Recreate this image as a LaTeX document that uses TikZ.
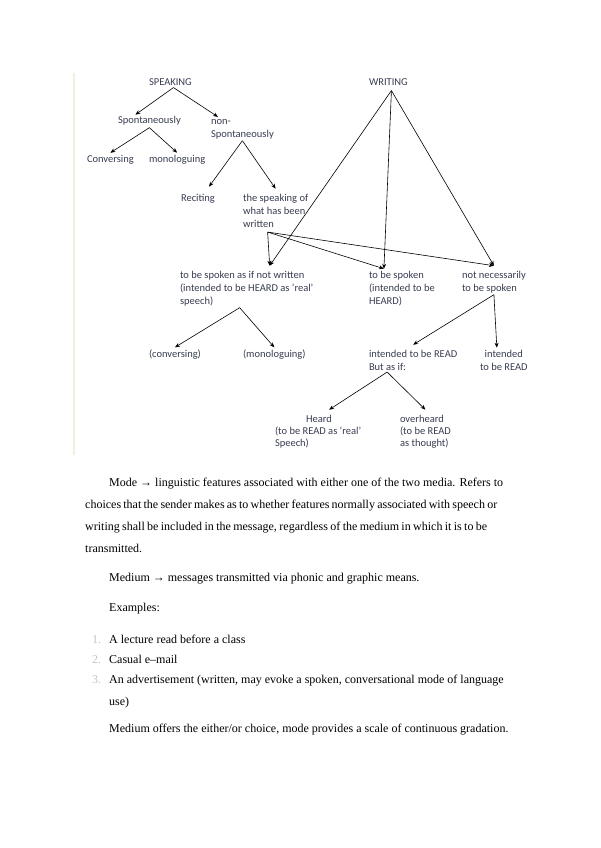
\documentclass[tikz,border=0pt]{standalone}
\usepackage{fontspec}
\setmainfont{Liberation Serif}
\newfontfamily\diagfont{Carlito}
\usetikzlibrary{arrows.meta}
\definecolor{diagtext}{RGB}{55,60,80}
\definecolor{numgray}{RGB}{190,200,185}
\definecolor{margincol}{RGB}{240,240,222}
\begin{document}
\begin{tikzpicture}[x=1pt,y=-1pt,
  lbl/.style={anchor=base west,inner sep=0pt,outer sep=2pt,align=left,text=diagtext,
    font=\diagfont\fontsize{10.5}{13}\selectfont},
  arr/.style={-{Stealth[length=5pt,width=4pt]},line width=0.6pt},
  body/.style={anchor=base west,inner sep=0pt,align=left,font=\fontsize{12}{22}\selectfont}]
  \useasboundingbox (0,0) rectangle (600,848);
  \draw[margincol,line width=1.5pt] (74,73) -- (74,455);
  \node[lbl] (speaking) at (147,85.5) {SPEAKING};
  \node[lbl] (writing) at (367,85.5) {WRITING};
  \node[lbl] (spont) at (116,124) {Spontaneously};
  \node[lbl] (nonspont) at (209,137) {non-\\Spontaneously};
  \node[lbl] (convers) at (85,162) {Conversing};
  \node[lbl] (monolog) at (147,162) {monologuing};
  \node[lbl] (reciting) at (179,201) {Reciting};
  \node[lbl] (spokenwritten) at (241,227) {the speaking of\\what has been\\written};
  \node[lbl] (asifnot) at (178,304) {to be spoken as if not written\\(intended to be HEARD as ‘real’\\speech)};
  \node[lbl] (tobespoken) at (367,304) {to be spoken\\(intended to be\\HEARD)};
  \node[lbl] (notneces) at (460,291) {not necessarily\\to be spoken};
  \node[lbl] (conv2) at (147,357) {(conversing)};
  \node[lbl] (mono2) at (241,357) {(monologuing)};
  \node[lbl] (readasif) at (367,370) {intended to be READ\\But as if:};
  \node[lbl,align=center] (intread) at (478,370) {intended\\to be READ};
  \node[lbl,font=\diagfont\fontsize{10.5}{12}\selectfont] (heard) at (273,446) {\hspace*{31pt}Heard\\(to be READ as ‘real’\\Speech)};
  \node[lbl,font=\diagfont\fontsize{10.5}{12}\selectfont] (overheard) at (398,446) {overheard\\(to be READ\\as thought)};
  \draw[arr] ([xshift=3pt]speaking.south) -- ([xshift=-14pt]spont.north);
  \draw[arr] ([xshift=3pt]speaking.south) -- ([xshift=9pt]nonspont.north west);
  \draw[arr] (spont.south) -- (convers.north);
  \draw[arr] (spont.south) -- (monolog.north);
  \draw[arr] (nonspont.south) -- ([xshift=11pt,yshift=5pt]reciting.north);
  \draw[arr] (nonspont.south) -- ([yshift=3pt]spokenwritten.north);
  \draw[arr] ([xshift=-8pt,yshift=-3pt]spokenwritten.south) -- ([xshift=23pt,yshift=3pt]asifnot.north);
  \draw[arr] ([xshift=-8pt,yshift=-3pt]spokenwritten.south) -- ([xshift=-18pt]tobespoken.north);
  \draw[arr] ([xshift=-8pt,yshift=-3pt]spokenwritten.south) -- ([yshift=3pt]notneces.north);
  \draw[arr] ([xshift=3pt,yshift=-3pt]writing.south) -- ([xshift=23pt,yshift=3pt]asifnot.north);
  \draw[arr] ([xshift=3pt,yshift=-3pt]writing.south) -- ([xshift=-18pt]tobespoken.north);
  \draw[arr] ([xshift=3pt,yshift=-3pt]writing.south) -- ([yshift=3pt]notneces.north);
  \draw[arr] ([xshift=-7pt]asifnot.south) -- (conv2.north);
  \draw[arr] ([xshift=-7pt]asifnot.south) -- (mono2.north);
  \draw[arr] (notneces.south) -- ([yshift=3pt]readasif.north);
  \draw[arr] (notneces.south) -- ([xshift=-7pt]intread.north);
  \draw[arr] ([xshift=-26pt]readasif.south) -- ([xshift=11pt,yshift=3pt]heard.north);
  \draw[arr] ([xshift=-26pt]readasif.south) -- ([yshift=3pt]overheard.north);
  \node[body] (mode) at (85,552) {\hspace*{24pt}\makebox[394pt][s]{Mode → linguistic features associated with either one of the two media. Refers to}\\
    \makebox[412pt][s]{choices that the sender makes as to whether features normally associated with speech or}\\
    \makebox[402pt][s]{writing shall be included in the message, regardless of the medium in which it is to be}\\
    transmitted.};
  \node[body] (medium) at (109,581.5) {Medium → messages transmitted via phonic and graphic means.};
  \node[body] (examples) at (109,611) {Examples:};
  \node[body,text=numgray] (num1) at (92,643) {1.};
  \node[body,text=numgray] (num2) at (92,663) {2.};
  \node[body,text=numgray] (num3) at (92,683.5) {3.};
  \node[body] (ex1) at (109,643) {A lecture read before a class};
  \node[body] (ex2) at (109,663) {Casual e–mail};
  \node[body] (ex3) at (109,705.5) {An advertisement (written, may evoke a spoken, conversational mode of language\\use)};
  \node[body] (gradation) at (109,732.5) {Medium offers the either/or choice, mode provides a scale of continuous gradation.};
\end{tikzpicture}
\end{document}
